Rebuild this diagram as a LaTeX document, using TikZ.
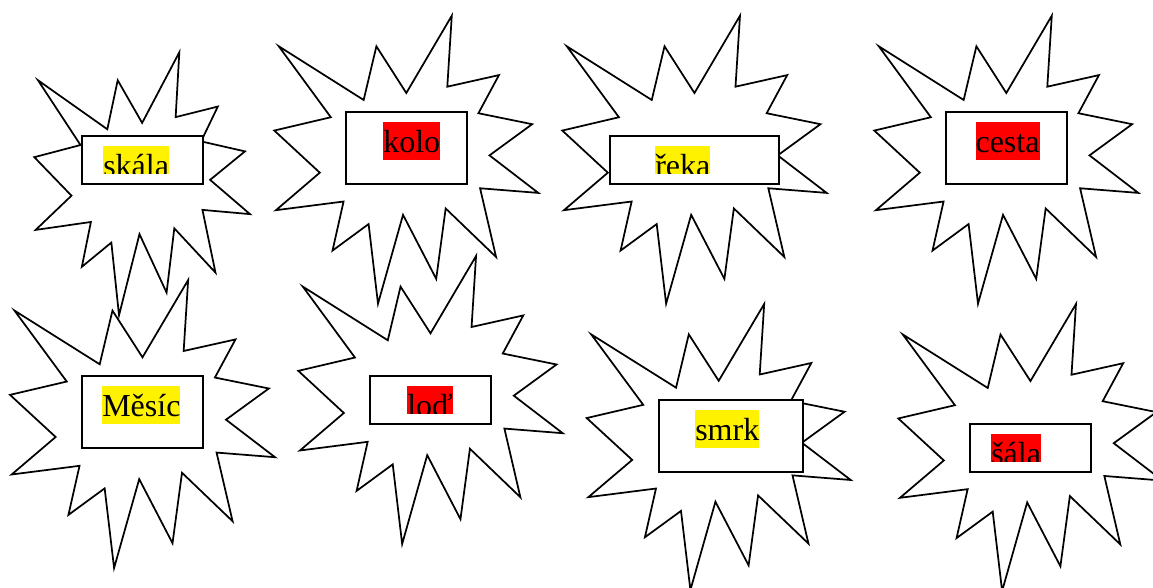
\documentclass[tikz,border=0pt]{standalone}
\usepackage{fontspec}
\setmainfont{Liberation Serif}
\tikzset{
burst/.style={draw, fill=white, line width=1.3pt, line join=miter}, % outline of one explosion
card/.style={draw, fill=white, line width=1.5pt, minimum width=90.5pt, minimum height=36pt}, % the box round a word
tag/.style={inner sep=0pt, text height=23pt, text depth=5.5pt, anchor=north west, font=\fontsize{24}{28}\selectfont}, % highlighted word
}
% explosion with its top left corner at (#1,#2), #3 wide and #4 high (pixels)
\newcommand{\burstat}[4]{%
  \begin{scope}[shift={(#1,#2)}, xscale=#3/100, yscale=#4/100]
    \draw[burst] (50,26.85) -- (67.23,0) -- (65.53,24.65) -- (85.09,20.63) -- (77.32,33.87) -- (97.67,37.67) -- (81.51,48.5) -- (100,61.53) -- (77.95,59.92) -- (84,83.77) -- (64.91,66.93) -- (61.33,91.38) -- (48.76,69.14) -- (39.28,100) -- (35.72,72.35) -- (22.05,81.56) -- (26.24,64.52) -- (0.63,67.53) -- (17.23,54.51) -- (0,39.88) -- (21.42,35.26) -- (1.71,10.63) -- (33.85,29.26) -- (38.67,10.63) -- cycle;
  \end{scope}}
\begin{document}
\begin{tikzpicture}[x=0.75pt, y=-0.75pt]
\useasboundingbox (0,0) rectangle (1153,588);
% top row
\burstat{34.3}{52.3}{215.7}{263}
\node[card] (cskala) at (142.35,160) {};
\begin{scope}
  \clip (0,0) rectangle (1153,173.3);
  \node[tag, fill=yellow] (skala) at (103,146) {skála};
\end{scope}
\burstat{274.3}{15.7}{264}{288}
\node[card, minimum height=54pt] (ckolo) at (406.35,147.7) {};
\node[tag, fill=red] (kolo) at (383,122) {kolo};
\burstat{562.3}{15.7}{264.3}{288}
\node[card, minimum width=126.5pt] (creka) at (694.35,159.85) {};
\begin{scope}
  \clip (0,0) rectangle (1153,174);
  \node[tag, fill=yellow] (reka) at (655,146) {řeka};
\end{scope}
\burstat{874.3}{15.7}{264}{288}
\node[card, minimum height=54pt] (ccesta) at (1006.35,147.7) {};
\node[tag, fill=red] (cesta) at (975.3,122) {cesta};
% bottom row
\burstat{10}{280}{265}{288}
\node[card, minimum height=54pt] (cmesic) at (142.35,412) {};
\node[tag, fill=yellow] (mesic) at (102,386) {Měsíc};
\burstat{298.3}{256}{264.4}{288}
\node[card] (clod) at (430.35,400) {};
\begin{scope}
  \clip (0,0) rectangle (1153,413.3);
  \node[tag, fill=red] (lod) at (407,386) {loď};
\end{scope}
\burstat{586.7}{304}{264}{286}
\node[card, minimum width=108pt, minimum height=54pt] (csmrk) at (730.7,435.85) {};
\node[tag, fill=yellow] (smrk) at (695,410) {smrk};
\burstat{898.3}{304}{264.3}{287}
\node[card] (csala) at (1030.35,448) {};
\begin{scope}
  \clip (0,0) rectangle (1153,461);
  \node[tag, fill=red] (sala) at (991,434) {šála};
\end{scope}
\end{tikzpicture}
\end{document}
